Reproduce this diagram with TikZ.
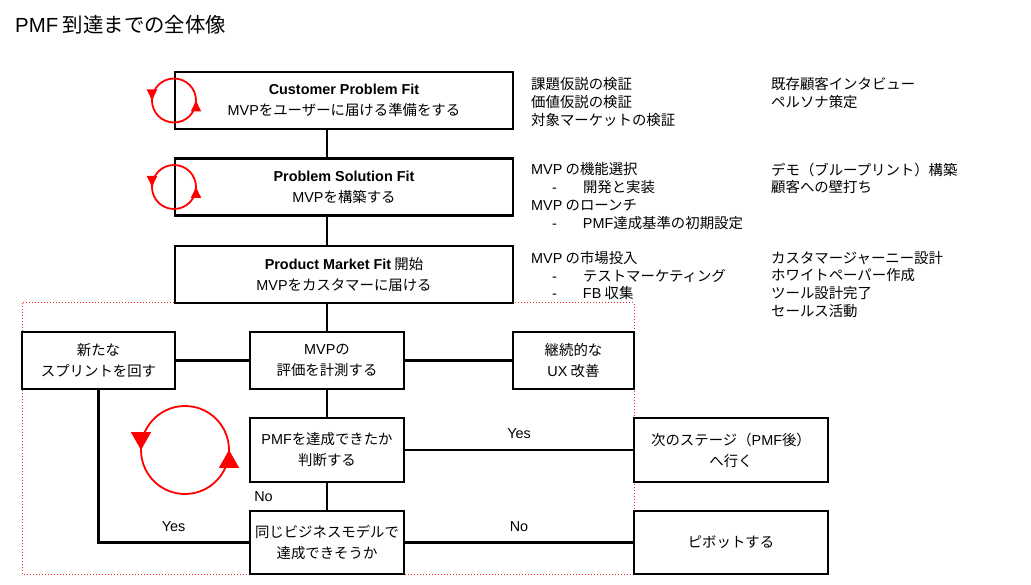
\documentclass[tikz,border=0pt]{standalone}
\usepackage{fontspec}
\setmainfont{Noto Sans CJK JP}
\newfontfamily\latinfont{Liberation Sans}
\newcommand{\eng}[1]{{\latinfont #1}}
\newcommand{\dashitem}{\hspace*{21pt}\eng{-}\hspace*{26pt}}
\usetikzlibrary{arrows.meta, decorations.markings}

\begin{document}
\begin{tikzpicture}[
        x=1pt, y=-1pt,
        every node/.style={align=center, inner sep=0pt, font=\fontsize{14.4}{21}\selectfont},
        stepbox/.style={draw, line width=2.4pt, minimum width=154pt, minimum height=57pt},
        fitbox/.style={stepbox, minimum width=338pt},
        note/.style={anchor=west, align=left, font=\fontsize{14.4}{17.8}\selectfont},
        lbl/.style={above=7pt, text depth=3pt},
        link/.style={line width=2.4pt},
        frame/.style={red!85, dotted, line width=1pt},
        redloop/.style={red, line width=1.8pt, postaction={decorate},
            decoration={markings,
                mark=at position 0.25 with {\arrow{#1}},
                mark=at position 0.75 with {\arrow{#1}}}}
    ]
        \useasboundingbox (0,0) rectangle (1031,585);

        \node[anchor=west, font=\fontsize{20.4}{24}\selectfont] (title) at (15,25) {\eng{PMF} 到達までの全体像};

        \draw[frame] (22,303) rectangle (634,574);

        \node[fitbox] (cpf) at (344,100.5) {\eng{\bfseries Customer Problem Fit}\\\eng{MVP}をユーザーに届ける準備をする};
        \node[fitbox] (psf) at (344,187) {\eng{\bfseries Problem Solution Fit}\\\eng{MVP}を構築する};
        \node[fitbox] (pmf) at (344,274.5) {\eng{\bfseries Product Market Fit} 開始\\\eng{MVP}をカスタマーに届ける};

        \node[stepbox, minimum width=153pt] (sprint) at (98.5,360.5) {新たな\\スプリントを回す};
        \node[stepbox] (measure) at (327,360.5) {\eng{MVP}の\\評価を計測する};
        \node[stepbox, minimum width=121pt] (ux) at (573.5,360.5) {継続的な\\\eng{UX} 改善};
        \node[stepbox, minimum height=64pt] (judge) at (327,450) {\eng{PMF}を達成できたか\\判断する};
        \node[stepbox, minimum height=63pt] (same) at (327,542.5) {同じビジネスモデルで\\達成できそうか};
        \node[stepbox, minimum width=194pt, minimum height=64pt] (next) at (731,450) {次のステージ（\eng{PMF}後）\\へ行く};
        \node[stepbox, minimum width=194pt, minimum height=63pt] (pivot) at (731,542.5) {ピボットする};

        \node[note] (cpfwhat) at (531,102.1) {課題仮説の検証\\価値仮説の検証\\対象マーケットの検証};
        \node[note] (cpfhow) at (771,93.2) {既存顧客インタビュー\\ペルソナ策定};
        \node[note] (psfwhat) at (531,196.2) {\eng{MVP} の機能選択\\\dashitem 開発と実装\\\eng{MVP} のローンチ\\\dashitem \eng{PMF}達成基準の初期設定};
        \node[note] (psfhow) at (771,178.4) {デモ（ブループリント）構築\\顧客への壁打ち};
        \node[note] (pmfwhat) at (531,275.5) {\eng{MVP} の市場投入\\\dashitem テストマーケティング\\\dashitem \eng{FB} 収集};
        \node[note] (pmfhow) at (771,284.4) {カスタマージャーニー設計\\ホワイトペーパー作成\\ツール設計完了\\セールス活動};

        \draw[link] (cpf.south -| measure) -- (psf.north -| measure);
        \draw[link] (psf.south -| measure) -- (pmf.north -| measure);
        \draw[link] (pmf.south -| measure) -- (measure.north);
        \draw[link] (sprint.east) -- (measure.west);
        \draw[link] (measure.east) -- (ux.west);
        \draw[link] (measure.south) -- (judge.north);
        \draw[link] (judge.east) -- node[lbl] {\eng{Yes}} (next.west);
        \draw[link] (judge.south) -- node[xshift=-63.5pt] {\eng{No}} (same.north);
        \draw[link] (sprint.south) |- node[pos=0.75, lbl] {\eng{Yes}} (same.west);
        \draw[link] (same.east) -- node[lbl] {\eng{No}} (pivot.west);

        \draw[redloop={Triangle[length=11pt,width=10pt]}] (174,78.5) arc[start angle=-90, end angle=-450, radius=22];
        \draw[redloop={Triangle[length=11pt,width=10pt]}] (174,165) arc[start angle=-90, end angle=-450, radius=22];
        \draw[redloop={Triangle[length=18pt,width=20pt]}] (185,406) arc[start angle=-90, end angle=-450, radius=44];
    \end{tikzpicture}
\end{document}
